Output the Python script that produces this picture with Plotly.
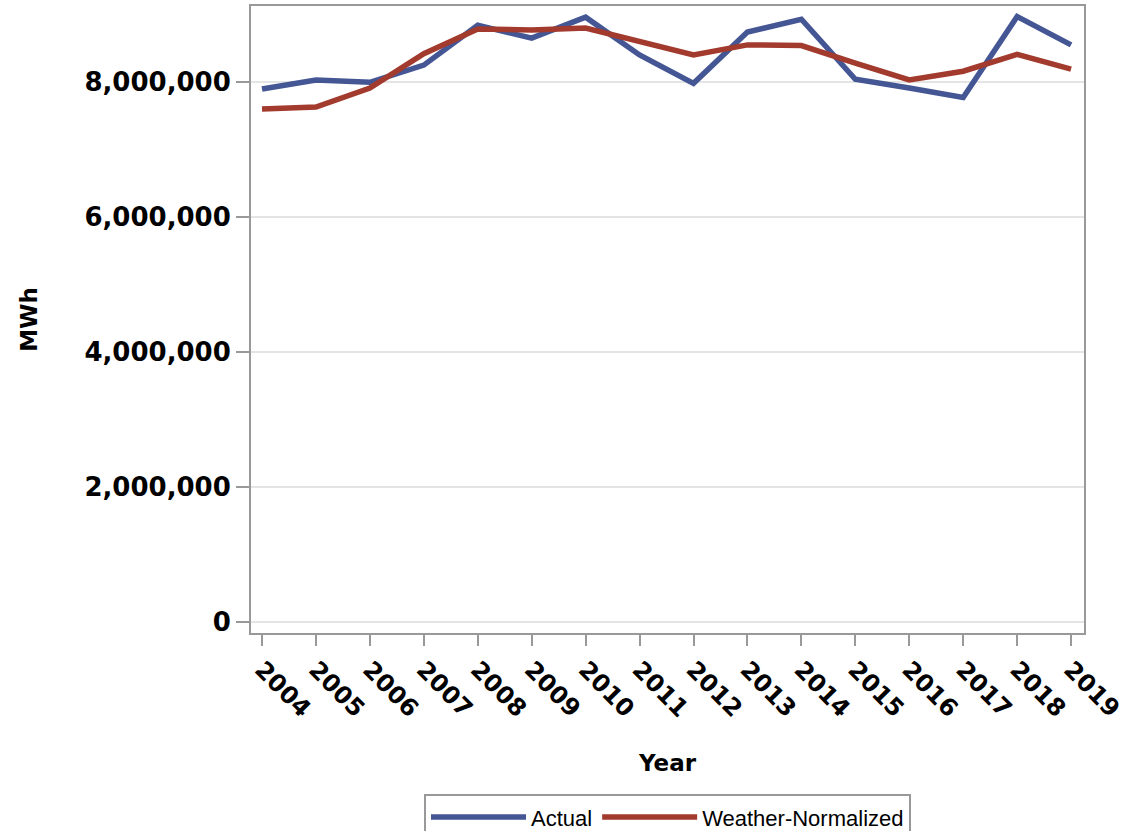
import plotly.graph_objects as go

years = list(range(2004, 2020))
actual = [7896000, 8030000, 7995000, 8250000, 8840000, 8650000, 8960000, 8400000,
          7980000, 8740000, 8930000, 8040000, 7910000, 7770000, 8970000, 8550000]
weather_normalized = [7600000, 7630000, 7910000, 8420000, 8785000, 8770000, 8800000, 8610000,
                      8400000, 8550000, 8540000, 8280000, 8030000, 8160000, 8410000, 8190000]
y_ticks = [0, 2000000, 4000000, 6000000, 8000000]
y_tick_text = ["0", "2,000,000", "4,000,000", "6,000,000", "8,000,000"]

fig = go.Figure()
fig.add_trace(go.Scatter(x=years, y=actual, mode="lines", name="Actual",
                         line=dict(color="#445694", width=5.5)))
fig.add_trace(go.Scatter(x=years, y=weather_normalized, mode="lines", name="Weather-Normalized",
                         line=dict(color="#A23A2E", width=5.5)))

y_font = dict(family="DejaVu Sans", size=26, color="black", weight="bold")
x_font = dict(family="DejaVu Sans", size=24, color="black", weight="bold")
title_font = dict(family="DejaVu Sans", size=23, color="black", weight="bold")
fig.update_layout(
    width=1122, height=831,
    margin=dict(l=251, r=38, t=6, b=198, autoexpand=False),
    paper_bgcolor="white", plot_bgcolor="white",
    showlegend=True,
    legend=dict(orientation="h", x=0.5, xanchor="center", y=-0.257, yanchor="top",
                bordercolor="#999999", borderwidth=2,
                font=dict(family="Liberation Sans", size=22, color="black"),
                itemwidth=95),
    xaxis=dict(range=[2003.796, 2019.24], tickmode="array", tickvals=years,
               ticktext=[str(y) for y in years], tickangle=45, automargin=False,
               ticklabeloverflow="allow",
               tickfont=x_font, ticks="outside", ticklen=11, tickwidth=2,
               tickcolor="#999999", showline=True, linecolor="#999999", linewidth=2,
               mirror=True, showgrid=False, zeroline=False,
               title=dict(text="Year", font=title_font, standoff=33)),
    yaxis=dict(range=[-163000, 9126000], tickmode="array", tickvals=y_ticks,
               ticktext=y_tick_text, tickfont=y_font, ticks="outside", ticklen=13,
               tickwidth=2, tickcolor="#999999", showline=True, linecolor="#999999",
               linewidth=2, mirror=True, showgrid=True, gridcolor="#e4e4e4", gridwidth=2,
               zeroline=False, automargin=False, ticklabeloverflow="allow",
               title=dict(text="MWh", font=title_font, standoff=40)),
)
fig.write_html("out.html", config={"displayModeBar": False},
               post_script="document.body.style.margin='0';")
